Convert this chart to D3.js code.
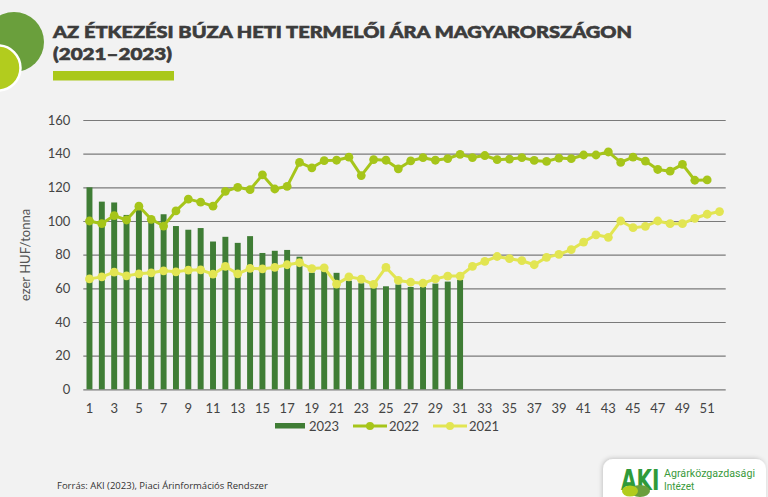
<!DOCTYPE html>
<html><head><meta charset="utf-8">
<script src="https://cdn.jsdelivr.net/npm/d3@7/dist/d3.min.js"></script>
<style>
html,body{margin:0;padding:0;background:#f2f2f2;}
svg{display:block;}
</style></head>
<body>
<svg id="c" width="768" height="497"></svg>
<script>
const weeks = [1,2,3,4,5,6,7,8,9,10,11,12,13,14,15,16,17,18,19,20,21,22,23,24,25,26,27,28,29,30,31,32,33,34,35,36,37,38,39,40,41,42,43,44,45,46,47,48,49,50,51,52];
const series2023 = [120,111.5,111,103.6,106.5,101.5,104,97,94.8,95.8,87.8,90.6,87,91,81,82.3,82.8,78.8,69.3,70.4,69.2,64.5,63,60.5,61.2,62.3,60.8,60.8,62.8,64,65];
const series2022 = [100,98.4,103.2,100.6,108.8,101,97,106,113,111.2,108.8,117.6,120,118.6,127.4,119,120.6,134.8,131.6,135.9,136.1,137.9,127,136.5,136.1,131,135.7,137.6,136.1,137.1,139.6,137.7,138.9,136.4,136.8,137.6,136,135.4,137.4,137,139.2,139.2,141,134.8,138,135.6,130.6,129.6,133.6,124.2,124.4];
const series2021 = [65.6,66.8,69.6,67.4,68.6,69.2,70.4,69.8,70.8,71,68.4,73,68.6,71.8,71.6,72.4,74,75.2,71.7,72.2,62.5,66.8,65.5,62.3,72.4,64.7,63.6,63,65.6,67.3,67.3,73,76,78.9,77.6,76.4,74,78.4,80.2,83,87.5,91.8,90.3,100,96,96.8,100,98.4,98.4,101.6,104,105.6];
const yTicks = [0,20,40,60,80,100,120,140,160];
const xTickLabels = [1,3,5,7,9,11,13,15,17,19,21,23,25,27,29,31,33,35,37,39,41,43,45,47,49,51];
const legendLabels = ["2023","2022","2021"];
const titleLines = ["AZ ÉTKEZÉSI BÚZA HETI TERMELŐI ÁRA MAGYARORSZÁGON","(2021–2023)"];
const yTitle = "ezer HUF/tonna";
const source = "Forrás: AKI (2023), Piaci Árinformációs Rendszer";

const C23 = "#3f7d35", C22 = "#a6c51a", C21 = "#e2e552";
const svg = d3.select("#c");
const FONT = "Lato, 'Open Sans', sans-serif";

// background decoration
svg.append("rect").attr("width",768).attr("height",497).attr("fill","#f2f2f2");
svg.append("circle").attr("cx",14).attr("cy",42).attr("r",30).attr("fill","#6a9f3c");
svg.append("circle").attr("cx",-2).attr("cy",68).attr("r",22.5).attr("fill","#b2cc1e").attr("stroke","#ffffff").attr("stroke-width",2.5);

// title
svg.append("text").attr("x",53).attr("y",38).text(titleLines[0])
  .attr("font-family",FONT).attr("font-weight",900).attr("font-size",16.5).attr("fill","#3c3c3c")
  .attr("stroke","#3c3c3c").attr("stroke-width",0.6)
  .attr("textLength",579).attr("lengthAdjust","spacingAndGlyphs");
svg.append("text").attr("x",53).attr("y",60).text(titleLines[1])
  .attr("font-family",FONT).attr("font-weight",900).attr("font-size",16.5).attr("fill","#3c3c3c")
  .attr("stroke","#3c3c3c").attr("stroke-width",0.6)
  .attr("textLength",119).attr("lengthAdjust","spacingAndGlyphs");
svg.append("rect").attr("x",53).attr("y",71).attr("width",121).attr("height",9.5).attr("fill","#aac81a");

// scales
const x = d3.scaleBand().domain(weeks).range([83.3,725.7]).paddingInner(0.52).paddingOuter(0.26);
const y = d3.scaleLinear().domain([0,160]).range([389.3,120]);
const cx = w => x(w) + x.bandwidth()/2;

// grid + y axis
const gy = svg.append("g").attr("transform","translate(83.3,0)")
  .call(d3.axisLeft(y).tickValues(yTicks).tickSize(-(725.7-83.3)).tickPadding(13));
gy.select(".domain").remove();
gy.selectAll(".tick line").attr("stroke","#7a7a7a").attr("stroke-width",1.2);
gy.selectAll(".tick text").attr("font-family",FONT).attr("font-size",13).attr("fill","#444");

// x axis
const gx = svg.append("g").attr("transform","translate(0,389.3)")
  .call(d3.axisBottom(x).tickValues(xTickLabels).tickSize(0).tickPadding(14));
gx.select(".domain").remove();
gx.selectAll(".tick text").attr("font-family",FONT).attr("font-size",13).attr("fill","#444");

// y title
svg.append("text").attr("transform","translate(30,255) rotate(-90)").attr("text-anchor","middle")
  .attr("font-family",FONT).attr("font-size",13).attr("fill","#555").text(yTitle);

// bars
svg.append("g").selectAll("rect").data(series2023).join("rect")
  .attr("x",(d,i)=>x(weeks[i])).attr("width",x.bandwidth())
  .attr("y",d=>y(d)).attr("height",d=>y(0)-y(d)).attr("fill",C23);

function drawLine(data,color,r){
  const pts = data.map((d,i)=>[weeks[i],d]);
  svg.append("path").datum(pts).attr("fill","none").attr("stroke",color).attr("stroke-width",3)
    .attr("stroke-linejoin","round")
    .attr("d",d3.line().x(p=>cx(p[0])).y(p=>y(p[1])));
  svg.append("g").selectAll("circle").data(pts).join("circle")
    .attr("cx",p=>cx(p[0])).attr("cy",p=>y(p[1])).attr("r",r).attr("fill",color);
}
drawLine(series2022,C22,4.4);
drawLine(series2021,C21,4.4);

// legend
const lg = svg.append("g").attr("font-family",FONT).attr("font-size",13).attr("fill","#444");
lg.append("rect").attr("x",275).attr("y",423).attr("width",30).attr("height",5.5).attr("fill",C23);
lg.append("text").attr("x",309).attr("y",431).text(legendLabels[0]);
lg.append("line").attr("x1",353).attr("x2",387).attr("y1",426).attr("y2",426).attr("stroke",C22).attr("stroke-width",3);
lg.append("circle").attr("cx",370).attr("cy",426).attr("r",4).attr("fill",C22);
lg.append("text").attr("x",389).attr("y",431).text(legendLabels[1]);
lg.append("line").attr("x1",433).attr("x2",467).attr("y1",426).attr("y2",426).attr("stroke",C21).attr("stroke-width",3);
lg.append("circle").attr("cx",450).attr("cy",426).attr("r",4).attr("fill",C21);
lg.append("text").attr("x",469).attr("y",431).text(legendLabels[2]);

// source
svg.append("text").attr("x",57).attr("y",489).text(source)
  .attr("font-family","'Liberation Sans Narrow','Open Sans',sans-serif").attr("font-size",9.5).attr("fill","#333");

// logo box
const defs = svg.append("defs");
const f = defs.append("filter").attr("id","sh").attr("x","-20%").attr("y","-40%").attr("width","140%").attr("height","180%");
f.append("feDropShadow").attr("dx",-1).attr("dy",-1).attr("stdDeviation",2).attr("flood-color","#000").attr("flood-opacity",0.18);
svg.append("rect").attr("x",603).attr("y",459).attr("width",163).attr("height",50).attr("rx",10).attr("fill","#fff").attr("filter","url(#sh)");
svg.append("text").attr("transform","translate(621,490) scale(1,1.4)").text("AKI").attr("font-family","'DejaVu Sans',sans-serif")
  .attr("font-weight",700).attr("font-size",20).attr("fill","#2f9a3a");
svg.append("ellipse").attr("cx",640).attr("cy",491).attr("rx",10).attr("ry",6).attr("fill","#6a9f3c");
svg.append("ellipse").attr("cx",630).attr("cy",491).attr("rx",8).attr("ry",5.5).attr("fill","#b2cc1e");
svg.append("text").attr("x",664).attr("y",476.5).text("Agrárközgazdasági").attr("font-family","'Liberation Sans Narrow','Roboto',sans-serif")
  .attr("font-size",10).attr("fill","#3a9a3c").attr("textLength",91).attr("lengthAdjust","spacingAndGlyphs");
svg.append("text").attr("x",664).attr("y",490).text("Intézet").attr("font-family","'Liberation Sans Narrow','Roboto',sans-serif")
  .attr("font-size",10).attr("fill","#3a9a3c");
</script>
</body></html>
